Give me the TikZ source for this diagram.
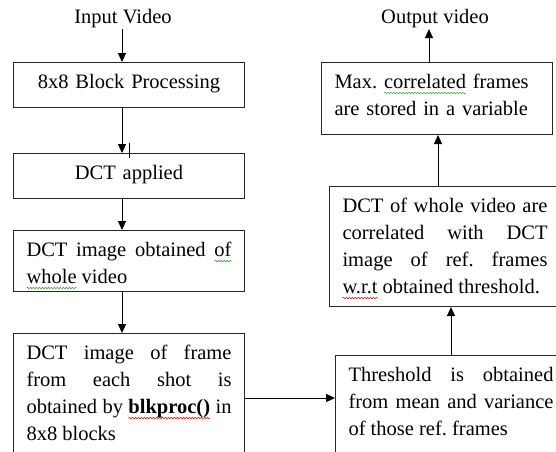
\documentclass[tikz,border=0pt]{standalone}
\usepackage{fontspec}
\setmainfont{Liberation Serif}
\usetikzlibrary{arrows.meta,decorations.pathmorphing}
\definecolor{sqgreen}{RGB}{70,165,70}
\definecolor{sqred}{RGB}{225,35,35}
\definecolor{edge}{RGB}{40,40,40}
\newsavebox\sqbox
\newcommand\sq[2]{\sbox\sqbox{#2}\usebox\sqbox\llap{\tikz[baseline=0pt,x=1pt,y=1pt]{\useasboundingbox (0,0) rectangle (\wd\sqbox,0); \draw[#1,line width=0.6pt,decorate,decoration={snake,amplitude=0.8pt,segment length=3pt}] (0,-4.5) -- (\wd\sqbox,-4.5);}}}
\tolerance=10000
\hyphenpenalty=10000
\frenchspacing
\begin{document}
\frenchspacing
\begin{tikzpicture}[x=1pt,y=-1pt,
  box/.style={draw=edge, line width=1pt, anchor=north west, inner xsep=13pt, inner ysep=9pt,
              text width=205pt, text height=17pt, font=\fontsize{20.5}{27}\selectfont\frenchspacing},
  lbl/.style={inner sep=1pt, anchor=base, font=\fontsize{20.5}{27}\selectfont},
  arr/.style={line width=1pt, -{Triangle[length=9pt,width=8pt]}}]
\useasboundingbox (0,0) rectangle (556,451);
\node[lbl] (in) at (123,23.5) {Input Video};
\node[lbl] (out) at (435,23.5) {Output video};
\node[box, align=center, text depth=10pt] (b1) at (13,62) {8x8 Block Processing};
\node[box, align=center, text depth=10pt] (b2) at (13,153) {DCT applied};
\node[box, align=justify, text depth=26pt] (b3) at (13,230) {DCT image obtained \sq{sqgreen}{of}\linebreak \sq{sqgreen}{whole} video};
\node[box, align=justify, text depth=150pt] (b4) at (13,333) {DCT image of frame\linebreak from each shot is\linebreak obtained by \sq{sqred}{\textbf{blkproc()}} in\linebreak 8x8 blocks};
\node[box, align=left, text depth=37pt] (mx) at (321,62) {Max. \sq{sqgreen}{correlated} frames\\ are stored in a variable};
\node[box, align=justify, text depth=85pt] (dw) at (329,186) {DCT of whole video are\linebreak correlated with DCT\linebreak image of ref. frames\linebreak \sq{sqred}{w.r.t} obtained threshold.};
\node[box, align=justify, text depth=150pt] (th) at (335,355) {Threshold is obtained\linebreak from mean and variance\linebreak of those ref. frames};
\coordinate (cL) at (122,0);
\coordinate (cT) at (451,0);
\coordinate (cD) at (438,0);
\coordinate (cM) at (429,0);
\coordinate (rH) at (0,398);
\draw[arr] (in.south -| cL) -- (b1.north -| cL);
\draw[arr] (b1.south -| cL) -- (b2.north -| cL);
\draw[arr] (b2.south -| cL) -- (b3.north -| cL);
\draw[arr] (b3.south -| cL) -- (b4.north -| cL);
\draw[arr] (b4.east |- rH) -- (th.west |- rH);
\draw[arr] (th.north -| cT) -- (dw.south -| cT);
\draw[arr] (dw.north -| cD) -- (mx.south -| cD);
\draw[arr] (mx.north -| cM) -- (out.south -| cM);
\draw[line width=1pt] (129,143) -- (129,158);
\end{tikzpicture}
\end{document}
